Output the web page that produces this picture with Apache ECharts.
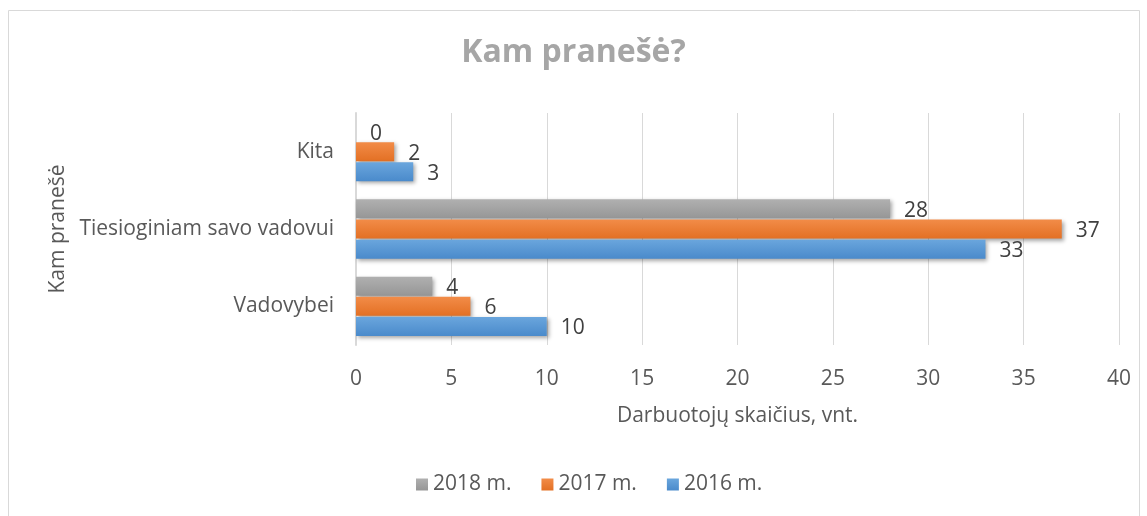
<!DOCTYPE html>
<html>
<head>
<meta charset="utf-8">
<script src="https://cdn.jsdelivr.net/npm/echarts@6/dist/echarts.min.js"></script>
<style>
  html, body { margin: 0; padding: 0; background: #fff; }
  #chart { width: 1147px; height: 516px; }
</style>
</head>
<body>
<div id="chart"></div>
<script>
const categories = ['Vadovybei', 'Tiesioginiam savo vadovui', 'Kita'];
const values2016 = [10, 33, 3];
const values2017 = [6, 37, 2];
const values2018 = [4, 28, 0];
const xTicks = [0, 5, 10, 15, 20, 25, 30, 35, 40];

const font = '"Open Sans", Lato, sans-serif';
const chart = echarts.init(document.getElementById('chart'));

function grad(top, bottom) {
    return new echarts.graphic.LinearGradient(0, 0, 0, 1, [
        { offset: 0, color: top },
        { offset: 1, color: bottom }
    ]);
}

function barSeries(name, data, c1, c2) {
    return {
        name: name,
        type: 'bar',
        data: data,
        barWidth: 19,
        barGap: '6%',
        itemStyle: {
            color: grad(c1, c2),
            shadowColor: 'rgba(0,0,0,0.35)',
            shadowBlur: 4,
            shadowOffsetX: 2,
            shadowOffsetY: 2
        },
        label: {
            show: true,
            position: 'right',
            distance: 14,
            offset: [0, 2],
            color: '#404040',
            fontSize: 21,
            fontFamily: font
        }
    };
}

chart.setOption({
    animation: false,
    title: {
        text: 'Kam pranešė?',
        left: 'center',
        top: 32,
        textStyle: { color: '#a6a6a6', fontSize: 32, fontWeight: 'bold', fontFamily: font }
    },
    graphic: [{
        type: 'rect',
        shape: { x: 8.5, y: 10.5, width: 1131, height: 520 },
        style: { fill: 'none', stroke: '#d9d9d9', lineWidth: 1 },
        silent: true
    }],
    legend: {
        data: ['2018 m.', '2017 m.', '2016 m.'],
        bottom: 16,
        left: 411,
        itemWidth: 12,
        itemHeight: 12,
        itemGap: 30,
        icon: 'rect',
        textStyle: { color: '#595959', fontSize: 21, fontFamily: font }
    },
    grid: { left: 356, right: 28, top: 113, bottom: 171, containLabel: false },
    xAxis: {
        type: 'value',
        min: xTicks[0],
        max: xTicks[xTicks.length - 1],
        interval: 5,
        name: 'Darbuotojų skaičius, vnt.',
        nameLocation: 'middle',
        nameGap: 61,
        nameTextStyle: { color: '#595959', fontSize: 21, fontFamily: font },
        axisLine: { show: false },
        axisTick: { show: false },
        axisLabel: { color: '#595959', fontSize: 21, fontFamily: font, margin: 24 },
        splitLine: { lineStyle: { color: '#d9d9d9', width: 1 } }
    },
    yAxis: {
        type: 'category',
        data: categories,
        name: 'Kam pranešė',
        nameLocation: 'middle',
        nameRotate: 90,
        nameGap: 280,
        nameTextStyle: { color: '#595959', fontSize: 21, fontFamily: font },
        axisLine: { show: true, lineStyle: { color: '#d9d9d9', width: 2 } },
        axisTick: { show: false },
        axisLabel: { color: '#595959', fontSize: 21, fontFamily: font, margin: 22 }
    },
    series: [
        barSeries('2018 m.', values2018, '#b0b0b0', '#969696'),
        barSeries('2017 m.', values2017, '#f28c48', '#e37024'),
        barSeries('2016 m.', values2016, '#6aa6dd', '#4a8acb')
    ]
});
</script>
</body>
</html>
